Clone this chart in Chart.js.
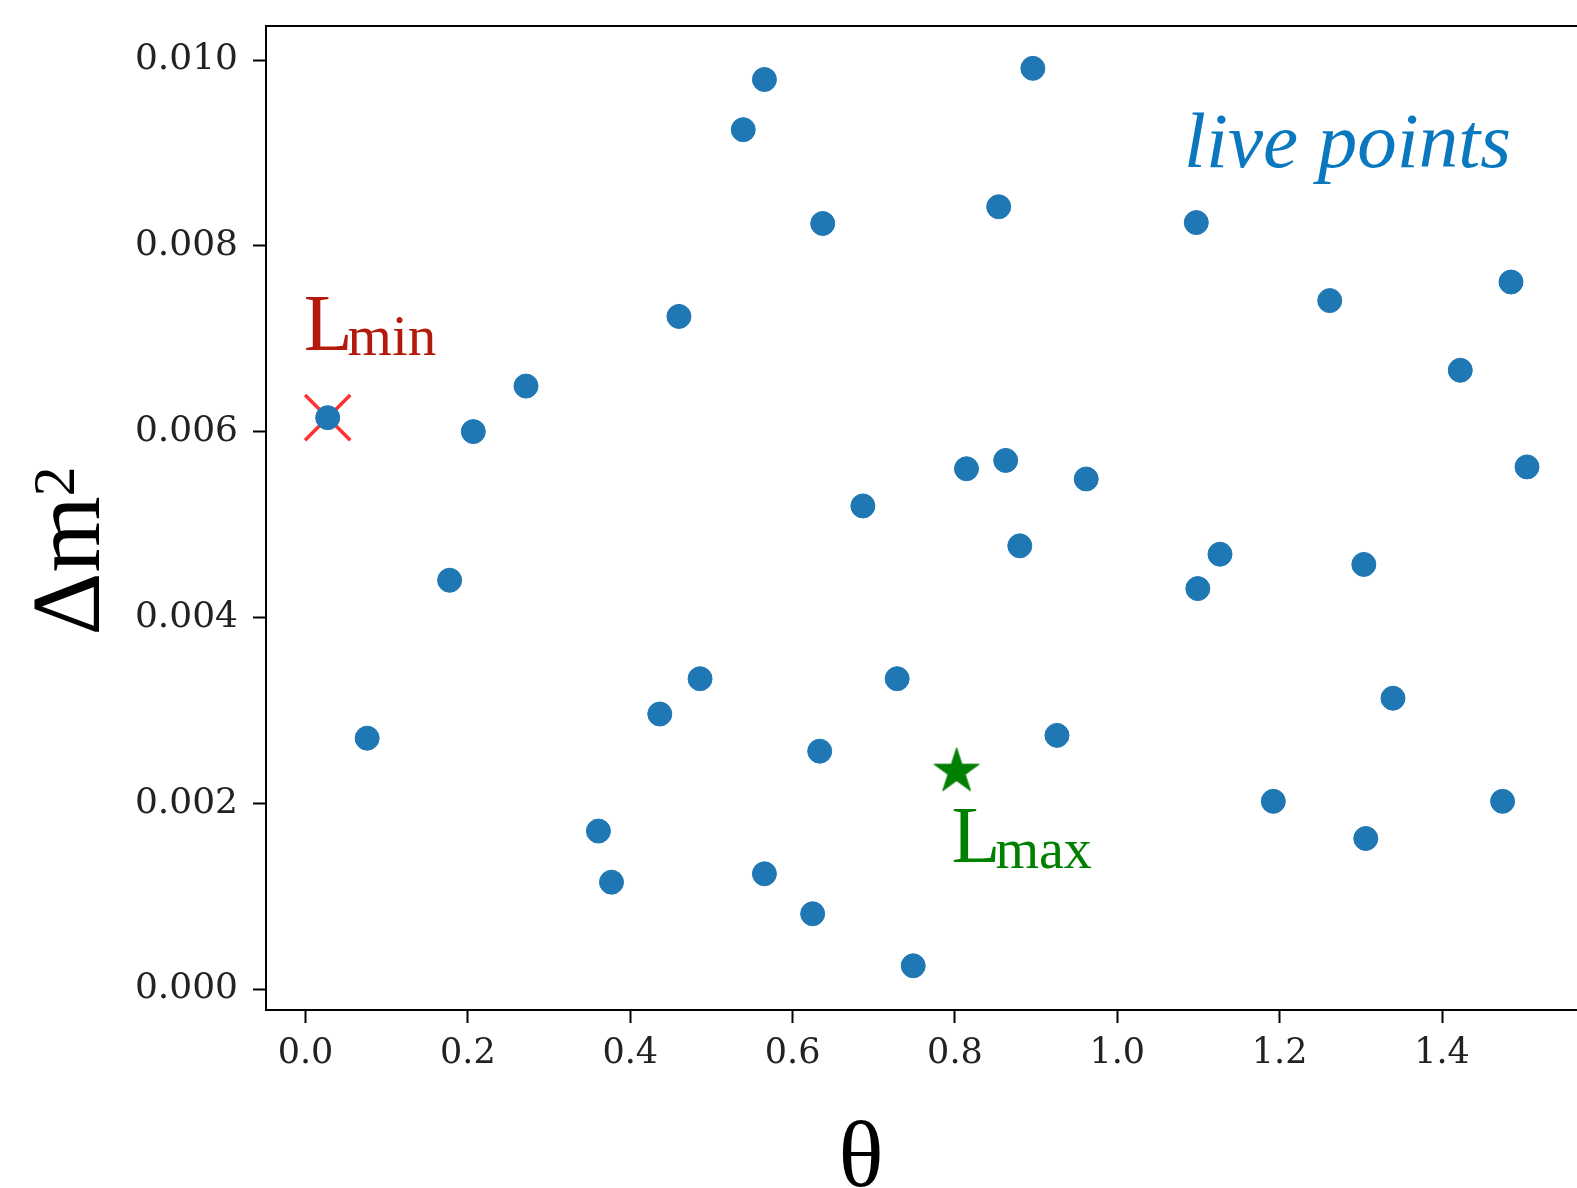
<!DOCTYPE html>
<html>
<head>
<meta charset="utf-8">
<script src="https://cdn.jsdelivr.net/npm/chart.js@4.4.1/dist/chart.umd.min.js"></script>
<style>
html,body{margin:0;padding:0;background:#fff;overflow:hidden}
canvas{display:block}
</style>
</head>
<body>
<canvas id="c" width="1577" height="1188"></canvas>
<script>
// ---- data ----
const thetaValues = [0.5653, 0.8960, 0.5392, 0.6371, 0.8539, 1.0973, 1.4850, 1.2617, 0.4600, 0.2716,
                     1.4225, 0.0273, 0.2067, 0.8142, 0.8625, 0.9617, 1.5047, 0.6866, 0.8799, 1.1265,
                     1.3037, 0.1775, 1.0992, 0.4860, 0.7288, 1.3396, 0.4364, 0.0759, 0.9257, 0.6334,
                     1.1922, 1.4746, 0.3608, 1.3061, 0.3769, 0.5653, 0.6247, 0.7486];
const dm2Values   = [0.00979, 0.00991, 0.00925, 0.00824, 0.00842, 0.00825, 0.00761, 0.00741, 0.00724, 0.00649,
                     0.00666, 0.00615, 0.00600, 0.00560, 0.00569, 0.00549, 0.00562, 0.00520, 0.00477, 0.00468,
                     0.00457, 0.00440, 0.00431, 0.00334, 0.00334, 0.00313, 0.00296, 0.00270, 0.00273, 0.00256,
                     0.00202, 0.00202, 0.00170, 0.00162, 0.00115, 0.00124, 0.00081, 0.00025];
const lminTheta = [0.0273];
const lminDm2   = [0.00615];
const lmaxTheta = [0.802];
const lmaxDm2   = [0.00234];
const xTickValues = [0.0, 0.2, 0.4, 0.6, 0.8, 1.0, 1.2, 1.4];
const xTickLabels = ['0.0', '0.2', '0.4', '0.6', '0.8', '1.0', '1.2', '1.4'];
const yTickValues = [0.000, 0.002, 0.004, 0.006, 0.008, 0.010];
const yTickLabels = ['0.000', '0.002', '0.004', '0.006', '0.008', '0.010'];
const xRange = [-0.0487, 1.5663];
const yRange = [-0.000226, 0.010366];

// ---- styles ----
const dotColor = '#1f77b4';
const minColor = '#b41a0c';
const maxColor = '#008000';
const liveColor = '#0a78bf';
const serif = '"Liberation Serif", "Times New Roman", serif';
const tickFont = '"DejaVu Serif", serif';

function makeStar(R, color) {
  const s = Math.ceil(R * 2 + 4);
  const c = document.createElement('canvas');
  c.width = s; c.height = s;
  const g = c.getContext('2d');
  const cx = s / 2, cy = s / 2, r = R * 0.381966;
  g.beginPath();
  for (let i = 0; i < 10; i++) {
    const a = -Math.PI / 2 + i * Math.PI / 5;
    const rr = (i % 2) ? r : R;
    g.lineTo(cx + rr * Math.cos(a), cy + rr * Math.sin(a));
  }
  g.closePath();
  g.fillStyle = color;
  g.fill();
  g.lineWidth = 1;
  g.strokeStyle = color;
  g.stroke();
  return c;
}
const starImg = makeStar(23.7, maxColor);

const zip = (xs, ys) => xs.map((v, i) => ({x: v, y: ys[i]}));
const noPad = s => { s.paddingTop = 0; s.paddingBottom = 0; s.paddingLeft = 0; s.paddingRight = 0; };

const annotate = {
  id: 'annotate',
  afterDraw(chart) {
    const {ctx, chartArea: a, scales: {x, y}} = chart;
    ctx.save();
    // top spine
    ctx.strokeStyle = '#000';
    ctx.lineWidth = 2;
    ctx.beginPath();
    ctx.moveTo(a.left - 1, a.top);
    ctx.lineTo(a.right, a.top);
    ctx.stroke();

    ctx.textAlign = 'left';
    ctx.textBaseline = 'alphabetic';

    // live points
    ctx.fillStyle = liveColor;
    ctx.font = 'italic 79px ' + serif;
    ctx.fillText('live points', 1184, 167);

    // L_min
    const mx = x.getPixelForValue(lminTheta[0]);
    const my = y.getPixelForValue(lminDm2[0]);
    ctx.fillStyle = minColor;
    ctx.font = '80px ' + serif;
    const lx = mx - 24, ly = my - 68;
    ctx.fillText('L', lx, ly);
    const lw = ctx.measureText('L').width;
    ctx.font = '57px ' + serif;
    ctx.fillText('min', lx + lw - 5, ly + 5);

    // L_max
    const sx = x.getPixelForValue(lmaxTheta[0]);
    const sy = y.getPixelForValue(lmaxDm2[0]);
    ctx.fillStyle = maxColor;
    ctx.font = '80px ' + serif;
    const kx = sx - 5, ky = sy + 90;
    ctx.fillText('L', kx, ky);
    const kw = ctx.measureText('L').width;
    ctx.font = '56px ' + serif;
    ctx.fillText('max', kx + kw - 5, ky + 6);

    // x axis title
    ctx.fillStyle = '#000';
    ctx.textAlign = 'center';
    ctx.font = '94px ' + serif;
    ctx.fillText('θ', 861, 1186);

    // y axis title
    ctx.textAlign = 'left';
    ctx.translate(99, 551);
    ctx.rotate(-Math.PI / 2);
    ctx.font = '98px ' + serif;
    const w1 = ctx.measureText('Δm').width;
    ctx.font = '60px ' + serif;
    const w2 = ctx.measureText('2').width;
    const W = w1 + w2;
    ctx.font = '98px ' + serif;
    ctx.fillText('Δm', -W / 2, 0);
    ctx.font = '60px ' + serif;
    ctx.fillText('2', -W / 2 + w1, -25);
    ctx.restore();
  }
};

new Chart(document.getElementById('c'), {
  type: 'scatter',
  data: {
    datasets: [
      {
        label: 'live points',
        data: zip(thetaValues, dm2Values),
        pointStyle: 'circle',
        pointRadius: 12,
        pointBackgroundColor: dotColor,
        pointBorderColor: dotColor,
        pointBorderWidth: 1
      },
      {
        label: 'Lmin',
        data: zip(lminTheta, lminDm2),
        pointStyle: 'crossRot',
        pointRadius: 32,
        pointBorderColor: 'rgba(255,20,20,0.88)',
        pointBackgroundColor: 'rgba(0,0,0,0)',
        pointBorderWidth: 3.5
      },
      {
        label: 'Lmax',
        data: zip(lmaxTheta, lmaxDm2),
        pointStyle: starImg,
        pointRadius: 24
      }
    ]
  },
  options: {
    responsive: false,
    devicePixelRatio: 1,
    animation: false,
    events: [],
    layout: {autoPadding: false, padding: {left: 0, top: 26, right: 0, bottom: 0}},
    plugins: {legend: {display: false}, tooltip: {enabled: false}, title: {display: false}},
    scales: {
      x: {
        type: 'linear',
        min: xRange[0],
        max: xRange[1],
        afterBuildTicks: s => { s.ticks = xTickValues.map(v => ({value: v})); },
        afterFit: s => { s.height = 178; noPad(s); },
        ticks: {
          callback: (v) => { const i = xTickValues.findIndex(t => Math.abs(t - v) < 1e-9); return i >= 0 ? xTickLabels[i] : ''; },
          font: {family: tickFont, size: 35},
          color: '#222',
          padding: 10,
          maxRotation: 0,
          autoSkip: false
        },
        grid: {display: true, drawOnChartArea: false, drawTicks: true, tickLength: 13, tickWidth: 2, tickColor: '#000'},
        border: {display: true, color: '#000', width: 2}
      },
      y: {
        type: 'linear',
        min: yRange[0],
        max: yRange[1],
        afterBuildTicks: s => { s.ticks = yTickValues.map(v => ({value: v})); },
        afterFit: s => { s.width = 266; noPad(s); },
        ticks: {
          callback: (v) => { const i = yTickValues.findIndex(t => Math.abs(t - v) < 1e-9); return i >= 0 ? yTickLabels[i] : ''; },
          font: {family: tickFont, size: 36},
          color: '#222',
          padding: 15,
          autoSkip: false
        },
        grid: {display: true, drawOnChartArea: false, drawTicks: true, tickLength: 13, tickWidth: 2, tickColor: '#000'},
        border: {display: true, color: '#000', width: 2}
      }
    }
  },
  plugins: [annotate]
});
</script>
</body>
</html>
